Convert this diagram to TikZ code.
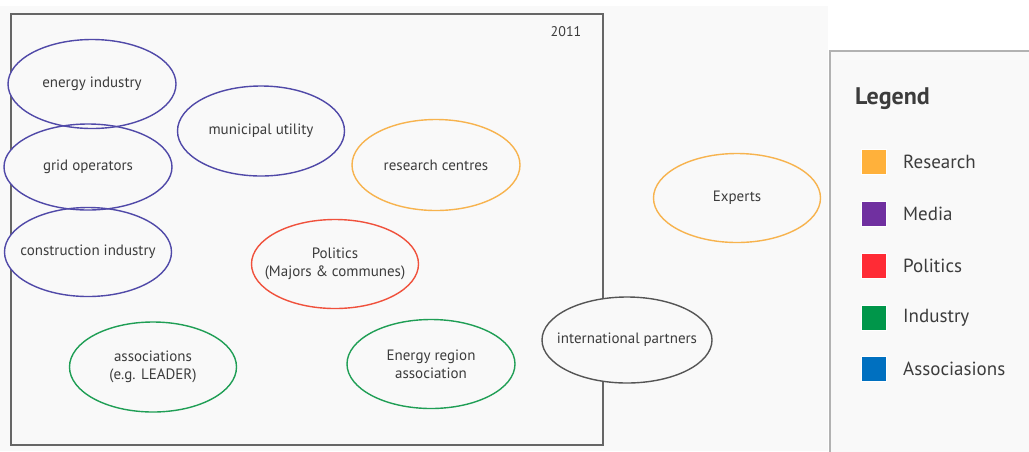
\documentclass[tikz,border=0pt]{standalone}
\usepackage{fontspec}
\setmainfont{PT Sans}
\usetikzlibrary{shapes.geometric}
\definecolor{bgg}{HTML}{F9F9F9}
\definecolor{txt}{HTML}{3C3C3C}
\definecolor{cpurple}{HTML}{5049A8}
\definecolor{corange}{HTML}{F7B34E}
\definecolor{cred}{HTML}{F0513C}
\definecolor{cgreen}{HTML}{1F9E55}
\definecolor{cgrey}{HTML}{555555}
\definecolor{lorange}{HTML}{FFB13B}
\definecolor{lpurple}{HTML}{7030A0}
\definecolor{lred}{HTML}{FF2B35}
\definecolor{lgreen}{HTML}{00964A}
\definecolor{lblue}{HTML}{0070C0}
\tikzset{
  ell/.style={ellipse, minimum width=168pt, minimum height=89pt, inner sep=-30pt,
    align=center, font=\fontsize{15}{18}\selectfont, text=txt, line width=1.4pt},
  ellfill/.style={ellipse, fill=bgg, inner sep=0pt},
  legsq/.style={minimum size=25pt, inner sep=0pt, draw=white, line width=0.6pt},
  legtxt/.style={anchor=west, font=\fontsize{19}{22}\selectfont, text=txt, inner sep=0pt},
}
\begin{document}
\begin{tikzpicture}[x=1pt,y=-1pt]
\useasboundingbox (0,0) rectangle (1029,451);
\fill[white] (0,0) rectangle (1029,451);
\fill[bgg] (0,6) rectangle (828,451);
\draw[line width=1.5pt, draw=cgrey!90] (11,14) rectangle (603,445);
\node[anchor=center, font=\fontsize{14}{16}\selectfont, text=txt] (year) at (566,32) {2011};
% legend box
\draw[fill=bgg, draw=black!30, line width=1.2pt] (830,51) rectangle (1032,455);
\node[anchor=west, font=\bfseries\fontsize{24}{28}\selectfont, text=txt, inner sep=0pt] (legend) at (855,99) {Legend};
\node[legsq, fill=lorange] (s1) at (873.5,162) {};
\node[legsq, fill=lpurple] (s2) at (873.5,214) {};
\node[legsq, fill=lred] (s3) at (873.5,266) {};
\node[legsq, fill=lgreen] (s4) at (873.5,318) {};
\node[legsq, fill=lblue] (s5) at (873.5,369) {};
\node[legtxt] (t1) at (903,162) {Research};
\node[legtxt] (t2) at (903,214) {Media};
\node[legtxt] (t3) at (903,266) {Politics};
\node[legtxt] (t4) at (903,318) {Industry};
\node[legtxt] (t5) at (903,369) {Associasions};
% ellipse fills (hide frame lines)
\foreach \p/\w/\h in {{92,84}/168/89,{88,167}/168/86,{88,252}/167/89,{261,131}/167/90,{436,165}/168/91,{335,264}/167/89,{153,367}/167/90,{431,364}/168/89,{627,340}/170/86,{737,198}/167/89}
  \node[ellfill, minimum width=\w pt, minimum height=\h pt] at (\p) {};
% ellipses
\node[ell, draw=cpurple, minimum width=168pt, minimum height=89pt] (energy) at (92,84) {energy industry};
\node[ell, draw=cpurple, minimum width=168pt, minimum height=86pt] (grid) at (88,167) {grid operators};
\node[ell, draw=cpurple, minimum width=167pt, minimum height=89pt] (constr) at (88,252) {construction industry};
\node[ell, draw=cpurple, minimum width=167pt, minimum height=90pt] (muni) at (261,131) {municipal utility};
\node[ell, draw=corange, minimum width=168pt, minimum height=91pt] (research) at (436,165) {research centres};
\node[ell, draw=cred, minimum width=167pt, minimum height=89pt] (politics) at (335,264) {Politics\\(Majors \& communes)};
\node[ell, draw=cgreen, minimum width=167pt, minimum height=90pt] (assoc) at (153,367) {associations\\(e.g. LEADER)};
\node[ell, draw=cgreen, minimum width=168pt, minimum height=89pt] (eregion) at (431,364) {Energy region\\association};
\node[ell, draw=cgrey, minimum width=170pt, minimum height=86pt] (intl) at (627,340) {international partners};
\node[ell, draw=corange, minimum width=167pt, minimum height=89pt] (experts) at (737,198) {Experts};
\end{tikzpicture}
\end{document}
